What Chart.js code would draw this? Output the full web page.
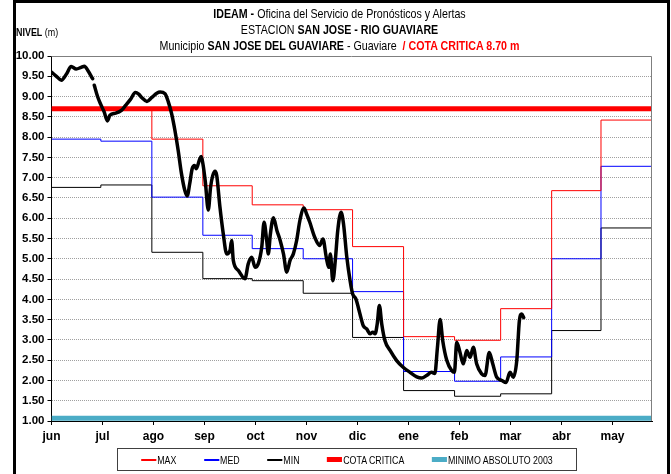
<!DOCTYPE html>
<html>
<head>
<meta charset="utf-8">
<script src="https://cdn.jsdelivr.net/npm/chart.js@4.4.0/dist/chart.umd.min.js"></script>
<style>
  html, body { margin: 0; padding: 0; background: #fff; }
  #frame { position: relative; width: 671px; height: 474px; overflow: hidden;
           font-family: 'Liberation Sans Narrow', 'Arial Narrow', 'Liberation Sans', sans-serif; color: #000; }
  #frame canvas { position: absolute; left: 0; top: 0; }
  #border { position: absolute; left: 13px; top: 0; width: 657px; height: 480px; box-sizing: border-box;
            border: 3px solid #000; pointer-events: none; }
  #title { position: absolute; left: 0; top: 6px; width: 679px; text-align: center;
           font-size: 13px; line-height: 16px; transform: scaleX(0.82); transform-origin: 339.5px 0; }
  #title .crit { color: #ff0000; font-weight: bold; }
  #ylabel { position: absolute; left: 16px; top: 26px; font-size: 10.5px; transform: scaleX(0.85); transform-origin: 0 0; }
  #legend { position: absolute; left: 117px; top: 448px; width: 460px; height: 23px; box-sizing: border-box;
            border: 1px solid #404040; }
  #legendItems { position: absolute; left: 0; top: 0; width: 458px; height: 21px; display: flex;
                 justify-content: center; align-items: center; gap: 33px; font-size: 10.5px;
                 transform: scaleX(0.84); transform-origin: 229px 0; }
  #legendItems .item { display: flex; align-items: center; flex-shrink: 0; white-space: nowrap; }
  #legendItems .sample { width: 18px; margin-right: 1px; flex-shrink: 0; }
</style>
</head>
<body>
<div id="frame">
  <canvas id="chart" width="671" height="474"></canvas>
  <div id="title">
    <div><b>IDEAM -</b> Oficina del Servicio de Pronósticos y Alertas</div>
    <div>ESTACION <b>SAN JOSE - RIO GUAVIARE</b></div>
    <div>Municipio <b>SAN JOSE DEL GUAVIARE</b> - Guaviare &nbsp;<span class="crit">/ COTA CRITICA 8.70 m</span></div>
  </div>
  <div id="ylabel"><b>NIVEL</b> (m)</div>
  <div id="legend"><div id="legendItems"></div></div>
  <div id="border"></div>
</div>
<script>
// Hydrological year axis: days counted from 1 June, month labels every 31 days
const monthLabels = ['jun', 'jul', 'ago', 'sep', 'oct', 'nov', 'dic', 'ene', 'feb', 'mar', 'abr', 'may'];
const monthStartDays = [0, 30, 61, 92, 122, 153, 183, 214, 245, 273, 304, 334];
const yearEndDay = 365;
const labelEveryDays = 31;

// Monthly historic levels (m)
const maxLevels = [8.70, 8.70, 7.95, 6.80, 6.33, 6.21, 5.30, 3.08, 2.99, 3.77, 6.68, 8.42];
const medLevels = [7.95, 7.90, 6.52, 5.58, 5.25, 5.00, 4.19, 2.22, 1.98, 2.58, 5.00, 7.28];
const minLevels = [6.76, 6.82, 5.16, 4.51, 4.46, 4.15, 3.06, 1.75, 1.61, 1.67, 3.23, 5.76];

const criticalLevel = 8.70;
const absoluteMinimum2003 = 1.07;

// Observed river level (day of year, metres); null marks a gap in the record
const levelDays = [0, 3, 6, 9, 12, 15, 18, 20, 22, 25, 25.5, 26, 28, 30, 32, 34, 35.5, 39, 42.5, 45, 48, 51, 53, 55, 58,
  61, 64, 66, 69, 71, 73, 75, 77, 79, 81, 82.5, 84, 85.5, 87, 88, 90, 91, 92, 93.5, 95.3, 96.7, 98, 99.4, 100.4,
  102.4, 104.4, 106.5, 108.5, 109.5, 110.5, 113.6, 117.6, 119.6, 121.7, 123.7, 125.7, 127.8, 129.2, 130.8, 131.8,
  133, 134.9, 137, 139, 141, 143, 145, 147, 149, 151, 153.5, 155, 157, 160, 163, 165, 167, 168.5, 169.5, 171,
  172.5, 174, 176, 177.5, 179.5, 181.5, 183, 185, 187.5, 189.5, 191.6, 193.6, 195.3, 196.7, 198, 199.3, 200.7,
  202.7, 205.8, 209.8, 213.9, 217.9, 222, 225, 228, 231, 233, 234.6, 236.2, 237.8, 240.3, 243.3, 244.9, 246.3,
  248.3, 250.3, 252.4, 254.4, 256.4, 258.4, 261.5, 263.5, 266.1, 268.2, 270.6, 273.7, 276.3, 278.7, 280.7, 282.8,
  284.4, 285.8, 287];
const levelValues = [9.60, 9.50, 9.40, 9.55, 9.74, 9.68, 9.72, 9.75, 9.65, 9.44, null, 9.28, 9.00, 8.80, 8.62, 8.40,
  8.54, 8.59, 8.66, 8.78, 8.93, 9.10, 9.06, 8.97, 8.88, 8.98, 9.08, 9.11, 9.07, 8.87, 8.58, 8.17, 7.67, 7.10, 6.69,
  6.55, 6.85, 7.22, 7.30, 7.22, 7.45, 7.52, 7.35, 6.90, 6.20, 6.77, 7.05, 7.16, 7.06, 6.27, 5.62, 5.12, 5.20, 5.45,
  4.96, 4.71, 4.51, 4.88, 5.04, 4.79, 4.88, 5.29, 5.90, 5.45, 5.12, 5.60, 6.01, 5.70, 5.45, 5.12, 4.67, 4.96, 5.12,
  5.45, 5.95, 6.25, 6.11, 5.90, 5.53, 5.33, 5.49, 5.04, 4.79, 5.12, 4.46, 4.96, 5.70, 6.15, 5.86, 5.04, 4.46, 4.14,
  4.01, 3.64, 3.35, 3.27, 3.15, 3.19, 3.15, 3.40, 3.85, 3.40, 2.98, 2.74, 2.49, 2.32, 2.20, 2.09, 2.06, 2.12, 2.20,
  2.17, 2.82, 3.50, 2.98, 2.49, 2.24, 2.20, 2.94, 2.69, 2.41, 2.74, 2.57, 2.82, 2.41, 2.16, 2.12, 2.69, 2.41, 2.08,
  2.00, 1.95, 2.20, 2.08, 2.49, 3.48, 3.64, 3.55];

const yMin = 1, yMax = 10, yStep = 0.5;

function monthlySteps(values) {
  const pts = monthStartDays.map((d, i) => ({ x: d, y: values[i] }));
  pts.push({ x: yearEndDay, y: values[values.length - 1] });
  return pts;
}
function flatLine(v) {
  return [{ x: 0, y: v }, { x: yearEndDay, y: v }];
}

const boldNarrow = { family: "'Liberation Sans Narrow', 'Arial Narrow', 'Liberation Sans', sans-serif", size: 12, weight: 'bold' };
const boldTick = { family: "'Liberation Sans', Arial, sans-serif", size: 11.5, weight: 'bold' };

// Gray frame on the top and right of the plot area
const plotFrame = {
  id: 'plotFrame',
  afterDatasetsDraw(chart) {
    const { ctx, chartArea: a } = chart;
    ctx.save();
    ctx.strokeStyle = '#7f7f7f';
    ctx.lineWidth = 1;
    ctx.beginPath();
    ctx.moveTo(a.left, Math.round(a.top) + 0.5);
    ctx.lineTo(Math.round(a.right) - 0.5, Math.round(a.top) + 0.5);
    ctx.lineTo(Math.round(a.right) - 0.5, a.bottom);
    ctx.stroke();
    ctx.restore();
  }
};

const chart = new Chart(document.getElementById('chart'), {
  type: 'line',
  data: {
    datasets: [
      { label: 'MAX', data: monthlySteps(maxLevels), borderColor: '#ff0000', borderWidth: 1, stepped: true, inLegend: true },
      { label: 'MED', data: monthlySteps(medLevels), borderColor: '#0000ff', borderWidth: 1, stepped: true, inLegend: true },
      { label: 'MIN', data: monthlySteps(minLevels), borderColor: '#000000', borderWidth: 1, stepped: true, inLegend: true },
      { label: 'COTA CRITICA', data: flatLine(criticalLevel), borderColor: '#ff0000', borderWidth: 5, inLegend: true },
      { label: 'MINIMO ABSOLUTO 2003', data: flatLine(absoluteMinimum2003), borderColor: '#4bacc6', borderWidth: 5, inLegend: true },
      { label: 'NIVEL', data: levelDays.map((d, i) => ({ x: d, y: levelValues[i] })), borderColor: '#000000',
        borderWidth: 3.5, cubicInterpolationMode: 'monotone', spanGaps: false, order: -1,
        borderCapStyle: 'round', borderJoinStyle: 'round', inLegend: false }
    ]
  },
  options: {
    responsive: false,
    animation: false,
    devicePixelRatio: 1,
    elements: { point: { radius: 0 } },
    layout: { padding: { left: 4, top: 56, right: 19, bottom: 27 } },
    plugins: { legend: { display: false }, tooltip: { enabled: false }, title: { display: false } },
    scales: {
      x: {
        type: 'linear', min: 0, max: yearEndDay,
        afterBuildTicks: s => { s.ticks = monthLabels.map((_, i) => ({ value: i * labelEveryDays })); },
        afterFit: s => { s.height = 26; },
        ticks: { autoSkip: false, maxRotation: 0, padding: 4, color: '#000', font: boldNarrow,
                 callback: (v) => monthLabels[Math.round(v / labelEveryDays)] },
        grid: { drawOnChartArea: false, tickLength: 4, color: '#000' },
        border: { color: '#000', width: 1 }
      },
      y: {
        min: yMin, max: yMax,
        afterFit: s => { s.width = 47.5; },
        ticks: { stepSize: yStep, padding: 3, color: '#000', font: boldTick, callback: v => v.toFixed(2) },
        grid: { color: '#a0a0a0', tickLength: 4, tickColor: '#000', lineWidth: 1, borderDash: [1, 1] },
        border: { color: '#000', width: 1, dash: [1, 1] }
      }
    }
  },
  plugins: [plotFrame]
});

// Legend built from the chart's own datasets
const legendEl = document.getElementById('legendItems');
chart.data.datasets.filter(d => d.inLegend).forEach(d => {
  const item = document.createElement('div');
  item.className = 'item';
  const sample = document.createElement('span');
  sample.className = 'sample';
  sample.style.height = Math.max(2, d.borderWidth) + 'px';
  sample.style.backgroundColor = d.borderColor;
  const text = document.createElement('span');
  text.textContent = d.label;
  item.appendChild(sample);
  item.appendChild(text);
  legendEl.appendChild(item);
});
</script>
</body>
</html>
